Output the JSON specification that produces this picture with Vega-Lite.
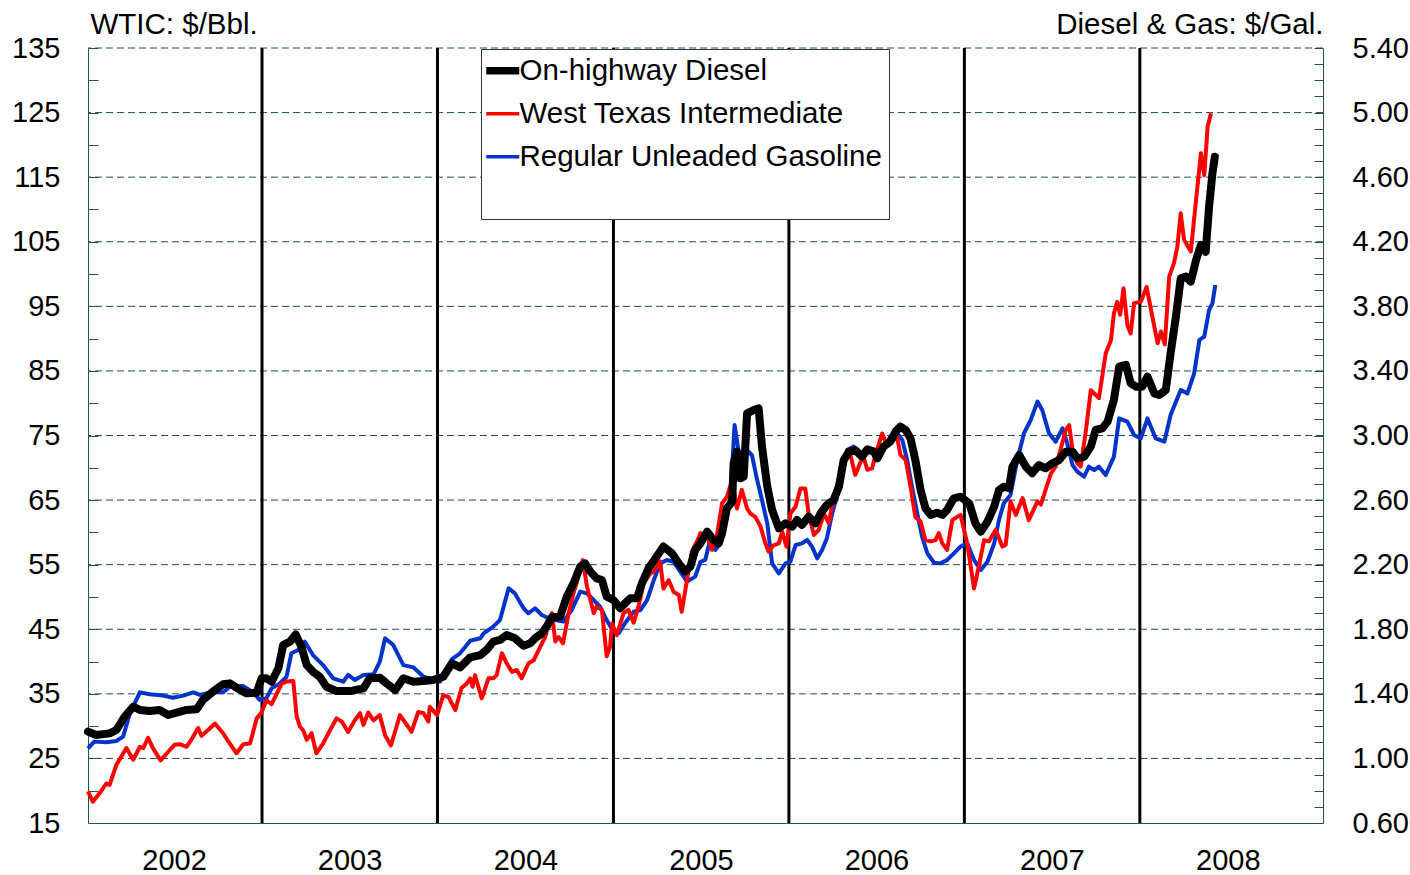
{
"$schema": "https://vega.github.io/schema/vega-lite/v6.json",
"width": 1235, "height": 775,
"autosize": {"type": "none"},
"padding": {"left": 88, "top": 48, "right": 87, "bottom": 52},
"background": "white",
"config": {"view": {"stroke": null}, "font": "Liberation Sans"},
"datasets": {
"grid": [{"level":25},{"level":35},{"level":45},{"level":55},{"level":65},{"level":75},{"level":85},{"level":95},{"level":105},{"level":115},{"level":125},{"level":135}],
"years": [{"date":"2003-01-01"},{"date":"2004-01-01"},{"date":"2005-01-01"},{"date":"2006-01-01"},{"date":"2007-01-01"},{"date":"2008-01-01"}],
"wti": [
{"date":"2002-01-04","price":19.9},{"date":"2002-01-14","price":18.3},{"date":"2002-01-28","price":19.6},{"date":"2002-02-11","price":21.1},{"date":"2002-02-18","price":20.9},{"date":"2002-03-04","price":24.0},{"date":"2002-03-25","price":26.6},{"date":"2002-04-08","price":24.8},{"date":"2002-04-22","price":26.8},{"date":"2002-04-29","price":26.6},{"date":"2002-05-09","price":28.2},{"date":"2002-05-19","price":26.6},{"date":"2002-06-04","price":24.7},{"date":"2002-06-23","price":26.3},{"date":"2002-07-03","price":27.1},{"date":"2002-07-14","price":27.2},{"date":"2002-07-28","price":26.8},{"date":"2002-08-07","price":27.9},{"date":"2002-08-21","price":29.7},{"date":"2002-08-28","price":28.5},{"date":"2002-09-11","price":29.4},{"date":"2002-09-25","price":30.4},{"date":"2002-10-12","price":28.9},{"date":"2002-10-26","price":27.3},{"date":"2002-11-09","price":25.8},{"date":"2002-11-23","price":27.2},{"date":"2002-12-07","price":27.3},{"date":"2002-12-21","price":31.2},{"date":"2002-12-31","price":32.1},
{"date":"2003-01-10","price":34.0},{"date":"2003-01-21","price":33.4},{"date":"2003-02-11","price":36.6},{"date":"2003-02-21","price":36.9},{"date":"2003-03-07","price":37.0},{"date":"2003-03-14","price":31.5},{"date":"2003-03-21","price":29.9},{"date":"2003-03-28","price":29.3},{"date":"2003-04-04","price":27.9},{"date":"2003-04-14","price":28.9},{"date":"2003-04-24","price":25.8},{"date":"2003-05-08","price":27.3},{"date":"2003-05-19","price":28.9},{"date":"2003-06-05","price":31.2},{"date":"2003-06-16","price":30.7},{"date":"2003-06-29","price":29.1},{"date":"2003-07-13","price":30.9},{"date":"2003-07-24","price":32.0},{"date":"2003-07-31","price":30.2},{"date":"2003-08-10","price":32.1},{"date":"2003-08-21","price":30.9},{"date":"2003-09-03","price":31.7},{"date":"2003-09-14","price":28.6},{"date":"2003-09-26","price":27.0},{"date":"2003-10-15","price":31.7},{"date":"2003-11-01","price":29.9},{"date":"2003-11-08","price":29.1},{"date":"2003-11-22","price":32.2},{"date":"2003-12-03","price":32.0},{"date":"2003-12-13","price":30.7},{"date":"2003-12-16","price":33.0},{"date":"2003-12-31","price":31.7},
{"date":"2004-01-13","price":34.8},{"date":"2004-01-24","price":34.5},{"date":"2004-02-07","price":32.5},{"date":"2004-02-20","price":35.9},{"date":"2004-03-02","price":36.6},{"date":"2004-03-09","price":37.4},{"date":"2004-03-14","price":36.1},{"date":"2004-03-19","price":37.9},{"date":"2004-04-02","price":34.3},{"date":"2004-04-16","price":37.4},{"date":"2004-04-26","price":37.4},{"date":"2004-05-03","price":37.9},{"date":"2004-05-14","price":41.3},{"date":"2004-05-24","price":39.7},{"date":"2004-06-04","price":38.4},{"date":"2004-06-14","price":38.7},{"date":"2004-06-24","price":37.4},{"date":"2004-07-08","price":39.7},{"date":"2004-07-19","price":40.2},{"date":"2004-08-02","price":42.3},{"date":"2004-08-12","price":43.8},{"date":"2004-08-26","price":47.5},{"date":"2004-09-02","price":43.1},{"date":"2004-09-09","price":43.8},{"date":"2004-09-18","price":42.8},{"date":"2004-09-30","price":47.5},{"date":"2004-10-10","price":50.6},{"date":"2004-10-20","price":53.1},{"date":"2004-10-29","price":55.7},{"date":"2004-11-07","price":51.6},{"date":"2004-11-21","price":47.5},{"date":"2004-11-27","price":48.5},{"date":"2004-12-08","price":48.0},{"date":"2004-12-18","price":40.8},{"date":"2004-12-25","price":42.3},{"date":"2004-12-29","price":45.9},
{"date":"2005-01-08","price":44.1},{"date":"2005-01-22","price":47.5},{"date":"2005-02-01","price":48.0},{"date":"2005-02-12","price":46.0},{"date":"2005-02-22","price":48.5},{"date":"2005-03-05","price":52.1},{"date":"2005-03-19","price":53.7},{"date":"2005-03-26","price":53.9},{"date":"2005-04-08","price":55.5},{"date":"2005-04-15","price":51.3},{"date":"2005-04-26","price":52.6},{"date":"2005-05-06","price":50.8},{"date":"2005-05-17","price":50.3},{"date":"2005-05-23","price":47.7},{"date":"2005-06-03","price":52.6},{"date":"2005-06-13","price":57.0},{"date":"2005-06-27","price":59.1},{"date":"2005-07-01","price":59.9},{"date":"2005-07-15","price":59.4},{"date":"2005-07-25","price":57.3},{"date":"2005-08-04","price":59.4},{"date":"2005-08-15","price":64.5},{"date":"2005-08-25","price":65.5},{"date":"2005-09-05","price":68.1},{"date":"2005-09-15","price":63.7},{"date":"2005-09-25","price":66.6},{"date":"2005-10-06","price":63.7},{"date":"2005-10-13","price":62.9},{"date":"2005-10-23","price":62.4},{"date":"2005-11-03","price":60.9},{"date":"2005-11-13","price":58.3},{"date":"2005-11-20","price":57.0},{"date":"2005-11-30","price":58.0},{"date":"2005-12-11","price":58.3},{"date":"2005-12-18","price":60.1},{"date":"2005-12-27","price":57.8},
{"date":"2006-01-04","price":62.9},{"date":"2006-01-15","price":64.0},{"date":"2006-01-25","price":66.8},{"date":"2006-02-04","price":66.8},{"date":"2006-02-11","price":62.9},{"date":"2006-02-22","price":59.6},{"date":"2006-03-04","price":60.4},{"date":"2006-03-15","price":62.9},{"date":"2006-03-25","price":61.4},{"date":"2006-04-04","price":65.5},{"date":"2006-04-15","price":68.1},{"date":"2006-04-25","price":71.5},{"date":"2006-05-09","price":72.0},{"date":"2006-05-19","price":68.9},{"date":"2006-05-30","price":70.9},{"date":"2006-06-06","price":71.5},{"date":"2006-06-13","price":69.7},{"date":"2006-06-23","price":69.9},{"date":"2006-06-30","price":72.0},{"date":"2006-07-14","price":75.3},{"date":"2006-07-24","price":73.5},{"date":"2006-07-31","price":73.8},{"date":"2006-08-14","price":74.8},{"date":"2006-08-21","price":72.0},{"date":"2006-09-01","price":71.2},{"date":"2006-09-11","price":67.1},{"date":"2006-09-21","price":62.4},{"date":"2006-10-02","price":61.7},{"date":"2006-10-12","price":58.8},{"date":"2006-10-23","price":58.6},{"date":"2006-11-02","price":58.8},{"date":"2006-11-09","price":59.9},{"date":"2006-11-16","price":58.3},{"date":"2006-11-26","price":57.3},{"date":"2006-12-07","price":61.9},{"date":"2006-12-17","price":62.4},{"date":"2006-12-24","price":62.7},
{"date":"2007-01-07","price":58.3},{"date":"2007-01-21","price":51.3},{"date":"2007-01-31","price":54.7},{"date":"2007-02-11","price":58.8},{"date":"2007-02-21","price":58.6},{"date":"2007-03-07","price":60.4},{"date":"2007-03-21","price":57.8},{"date":"2007-03-28","price":58.1},{"date":"2007-04-07","price":64.8},{"date":"2007-04-18","price":62.7},{"date":"2007-05-02","price":65.3},{"date":"2007-05-15","price":61.9},{"date":"2007-06-02","price":64.8},{"date":"2007-06-09","price":64.3},{"date":"2007-06-19","price":66.6},{"date":"2007-06-30","price":69.1},{"date":"2007-07-10","price":70.2},{"date":"2007-07-20","price":72.8},{"date":"2007-07-31","price":75.9},{"date":"2007-08-07","price":76.6},{"date":"2007-08-14","price":72.8},{"date":"2007-08-24","price":70.7},{"date":"2007-08-31","price":70.2},{"date":"2007-09-10","price":75.3},{"date":"2007-09-21","price":82.0},{"date":"2007-09-28","price":81.5},{"date":"2007-10-08","price":80.8},{"date":"2007-10-22","price":87.7},{"date":"2007-11-02","price":89.8},{"date":"2007-11-08","price":93.9},{"date":"2007-11-15","price":95.7},{"date":"2007-11-21","price":93.7},{"date":"2007-11-28","price":97.8},{"date":"2007-12-06","price":92.1},{"date":"2007-12-13","price":90.8},{"date":"2007-12-20","price":95.5},
{"date":"2008-01-03","price":95.7},{"date":"2008-01-15","price":98.0},{"date":"2008-01-27","price":93.4},{"date":"2008-02-07","price":89.3},{"date":"2008-02-14","price":91.1},{"date":"2008-02-22","price":89.1},{"date":"2008-03-02","price":99.6},{"date":"2008-03-12","price":101.7},{"date":"2008-03-19","price":104.2},{"date":"2008-03-26","price":109.4},{"date":"2008-04-02","price":105.3},{"date":"2008-04-16","price":103.5},{"date":"2008-04-27","price":111.5},{"date":"2008-05-07","price":118.7},{"date":"2008-05-14","price":115.3},{"date":"2008-05-21","price":122.8},{"date":"2008-05-28","price":124.9}
],
"diesel": [
{"date":"2002-01-04","price":1.166},{"date":"2002-01-21","price":1.145},{"date":"2002-02-18","price":1.155},{"date":"2002-03-04","price":1.176},{"date":"2002-03-21","price":1.258},{"date":"2002-04-08","price":1.320},{"date":"2002-04-22","price":1.300},{"date":"2002-05-12","price":1.294},{"date":"2002-06-02","price":1.300},{"date":"2002-06-20","price":1.269},{"date":"2002-07-07","price":1.283},{"date":"2002-07-28","price":1.300},{"date":"2002-08-18","price":1.304},{"date":"2002-08-31","price":1.362},{"date":"2002-09-21","price":1.414},{"date":"2002-10-12","price":1.459},{"date":"2002-10-26","price":1.465},{"date":"2002-11-16","price":1.424},{"date":"2002-11-30","price":1.403},{"date":"2002-12-21","price":1.407},{"date":"2002-12-31","price":1.496},
{"date":"2003-01-10","price":1.496},{"date":"2003-01-21","price":1.475},{"date":"2003-02-04","price":1.558},{"date":"2003-02-14","price":1.702},{"date":"2003-02-28","price":1.723},{"date":"2003-03-12","price":1.768},{"date":"2003-03-24","price":1.692},{"date":"2003-04-04","price":1.578},{"date":"2003-04-17","price":1.537},{"date":"2003-05-01","price":1.506},{"date":"2003-05-15","price":1.444},{"date":"2003-06-05","price":1.417},{"date":"2003-07-03","price":1.417},{"date":"2003-07-31","price":1.434},{"date":"2003-08-13","price":1.496},{"date":"2003-09-03","price":1.500},{"date":"2003-09-17","price":1.465},{"date":"2003-10-05","price":1.424},{"date":"2003-10-22","price":1.496},{"date":"2003-11-12","price":1.475},{"date":"2003-12-03","price":1.480},{"date":"2003-12-23","price":1.486},
{"date":"2004-01-13","price":1.506},{"date":"2004-01-31","price":1.589},{"date":"2004-02-17","price":1.564},{"date":"2004-03-09","price":1.626},{"date":"2004-03-30","price":1.640},{"date":"2004-04-12","price":1.672},{"date":"2004-04-26","price":1.723},{"date":"2004-05-10","price":1.734},{"date":"2004-05-24","price":1.764},{"date":"2004-06-10","price":1.744},{"date":"2004-06-28","price":1.698},{"date":"2004-07-12","price":1.713},{"date":"2004-07-22","price":1.744},{"date":"2004-08-05","price":1.775},{"date":"2004-08-15","price":1.816},{"date":"2004-08-26","price":1.874},{"date":"2004-09-12","price":1.878},{"date":"2004-09-26","price":2.002},{"date":"2004-10-10","price":2.084},{"date":"2004-10-24","price":2.188},{"date":"2004-11-03","price":2.208},{"date":"2004-11-14","price":2.157},{"date":"2004-11-27","price":2.115},{"date":"2004-12-08","price":2.105},{"date":"2004-12-18","price":2.002},
{"date":"2005-01-01","price":1.981},{"date":"2005-01-15","price":1.930},{"date":"2005-01-25","price":1.960},{"date":"2005-02-05","price":1.992},{"date":"2005-02-19","price":1.992},{"date":"2005-03-01","price":2.084},{"date":"2005-03-15","price":2.177},{"date":"2005-04-01","price":2.250},{"date":"2005-04-15","price":2.312},{"date":"2005-05-03","price":2.270},{"date":"2005-05-17","price":2.208},{"date":"2005-05-30","price":2.157},{"date":"2005-06-10","price":2.188},{"date":"2005-06-20","price":2.291},{"date":"2005-07-01","price":2.332},{"date":"2005-07-15","price":2.404},{"date":"2005-07-28","price":2.353},{"date":"2005-08-08","price":2.332},{"date":"2005-08-15","price":2.394},{"date":"2005-08-25","price":2.549},{"date":"2005-09-05","price":2.590},{"date":"2005-09-08","price":2.827},{"date":"2005-09-15","price":2.900},{"date":"2005-09-22","price":2.735},{"date":"2005-09-29","price":2.745},{"date":"2005-10-06","price":3.137},{"date":"2005-10-20","price":3.158},{"date":"2005-10-30","price":3.168},{"date":"2005-11-06","price":2.931},{"date":"2005-11-17","price":2.683},{"date":"2005-11-27","price":2.539},{"date":"2005-12-11","price":2.425},{"date":"2005-12-25","price":2.456},
{"date":"2006-01-08","price":2.435},{"date":"2006-01-18","price":2.477},{"date":"2006-01-28","price":2.446},{"date":"2006-02-11","price":2.497},{"date":"2006-02-25","price":2.456},{"date":"2006-03-08","price":2.518},{"date":"2006-03-21","price":2.570},{"date":"2006-04-04","price":2.600},{"date":"2006-04-15","price":2.683},{"date":"2006-04-25","price":2.848},{"date":"2006-05-06","price":2.900},{"date":"2006-05-19","price":2.910},{"date":"2006-06-02","price":2.869},{"date":"2006-06-13","price":2.914},{"date":"2006-06-27","price":2.900},{"date":"2006-07-04","price":2.859},{"date":"2006-07-17","price":2.931},{"date":"2006-07-31","price":2.962},{"date":"2006-08-11","price":3.024},{"date":"2006-08-21","price":3.055},{"date":"2006-09-01","price":3.034},{"date":"2006-09-11","price":2.982},{"date":"2006-09-21","price":2.848},{"date":"2006-10-02","price":2.662},{"date":"2006-10-12","price":2.549},{"date":"2006-10-23","price":2.508},{"date":"2006-11-05","price":2.522},{"date":"2006-11-16","price":2.508},{"date":"2006-11-26","price":2.539},{"date":"2006-12-10","price":2.611},{"date":"2006-12-24","price":2.621},
{"date":"2007-01-11","price":2.580},{"date":"2007-01-24","price":2.456},{"date":"2007-02-04","price":2.404},{"date":"2007-02-18","price":2.466},{"date":"2007-03-04","price":2.559},{"date":"2007-03-14","price":2.662},{"date":"2007-03-24","price":2.683},{"date":"2007-04-04","price":2.673},{"date":"2007-04-11","price":2.807},{"date":"2007-04-25","price":2.879},{"date":"2007-05-09","price":2.807},{"date":"2007-05-22","price":2.766},{"date":"2007-06-05","price":2.817},{"date":"2007-06-19","price":2.797},{"date":"2007-07-03","price":2.828},{"date":"2007-07-17","price":2.848},{"date":"2007-07-31","price":2.900},{"date":"2007-08-14","price":2.900},{"date":"2007-08-24","price":2.858},{"date":"2007-09-07","price":2.869},{"date":"2007-09-21","price":2.931},{"date":"2007-10-01","price":3.034},{"date":"2007-10-15","price":3.044},{"date":"2007-10-26","price":3.086},{"date":"2007-11-08","price":3.220},{"date":"2007-11-19","price":3.426},{"date":"2007-12-03","price":3.437},{"date":"2007-12-13","price":3.323},{"date":"2007-12-24","price":3.302},
{"date":"2008-01-06","price":3.302},{"date":"2008-01-17","price":3.364},{"date":"2008-01-31","price":3.261},{"date":"2008-02-10","price":3.251},{"date":"2008-02-24","price":3.282},{"date":"2008-03-05","price":3.509},{"date":"2008-03-16","price":3.736},{"date":"2008-03-26","price":3.973},{"date":"2008-04-06","price":3.984},{"date":"2008-04-16","price":3.953},{"date":"2008-04-27","price":4.087},{"date":"2008-05-07","price":4.180},{"date":"2008-05-17","price":4.138},{"date":"2008-05-24","price":4.417},{"date":"2008-05-31","price":4.624},{"date":"2008-06-05","price":4.727}
],
"gas": [
{"date":"2002-01-04","price":1.062},{"date":"2002-01-17","price":1.104},{"date":"2002-02-11","price":1.100},{"date":"2002-03-04","price":1.108},{"date":"2002-03-18","price":1.135},{"date":"2002-04-01","price":1.279},{"date":"2002-04-22","price":1.409},{"date":"2002-05-12","price":1.397},{"date":"2002-06-09","price":1.389},{"date":"2002-06-30","price":1.376},{"date":"2002-07-21","price":1.389},{"date":"2002-08-11","price":1.409},{"date":"2002-08-25","price":1.393},{"date":"2002-09-21","price":1.414},{"date":"2002-10-12","price":1.409},{"date":"2002-10-26","price":1.444},{"date":"2002-11-23","price":1.448},{"date":"2002-12-14","price":1.409},{"date":"2002-12-27","price":1.362},
{"date":"2003-01-10","price":1.372},{"date":"2003-01-21","price":1.434},{"date":"2003-02-07","price":1.465},{"date":"2003-02-21","price":1.506},{"date":"2003-03-03","price":1.651},{"date":"2003-03-17","price":1.672},{"date":"2003-03-31","price":1.723},{"date":"2003-04-17","price":1.640},{"date":"2003-05-08","price":1.578},{"date":"2003-05-29","price":1.496},{"date":"2003-06-19","price":1.475},{"date":"2003-06-29","price":1.517},{"date":"2003-07-13","price":1.486},{"date":"2003-07-31","price":1.517},{"date":"2003-08-21","price":1.521},{"date":"2003-09-03","price":1.599},{"date":"2003-09-14","price":1.744},{"date":"2003-10-01","price":1.702},{"date":"2003-10-22","price":1.578},{"date":"2003-11-12","price":1.564},{"date":"2003-12-03","price":1.506},{"date":"2003-12-23","price":1.486},
{"date":"2004-01-06","price":1.475},{"date":"2004-01-31","price":1.615},{"date":"2004-02-17","price":1.651},{"date":"2004-03-09","price":1.729},{"date":"2004-03-30","price":1.744},{"date":"2004-04-06","price":1.775},{"date":"2004-04-26","price":1.816},{"date":"2004-05-10","price":1.857},{"date":"2004-05-28","price":2.054},{"date":"2004-06-10","price":2.022},{"date":"2004-06-28","price":1.930},{"date":"2004-07-08","price":1.899},{"date":"2004-07-22","price":1.930},{"date":"2004-08-05","price":1.888},{"date":"2004-08-19","price":1.868},{"date":"2004-09-02","price":1.857},{"date":"2004-09-19","price":1.847},{"date":"2004-10-06","price":1.919},{"date":"2004-10-24","price":2.033},{"date":"2004-11-07","price":2.022},{"date":"2004-11-21","price":1.981},{"date":"2004-12-04","price":1.940},{"date":"2004-12-18","price":1.857},
{"date":"2005-01-01","price":1.785},{"date":"2005-01-12","price":1.775},{"date":"2005-01-25","price":1.837},{"date":"2005-02-12","price":1.909},{"date":"2005-02-26","price":1.919},{"date":"2005-03-12","price":1.981},{"date":"2005-03-26","price":2.105},{"date":"2005-04-08","price":2.208},{"date":"2005-04-22","price":2.229},{"date":"2005-05-06","price":2.218},{"date":"2005-05-20","price":2.157},{"date":"2005-06-03","price":2.095},{"date":"2005-06-20","price":2.126},{"date":"2005-07-01","price":2.218},{"date":"2005-07-11","price":2.229},{"date":"2005-07-21","price":2.353},{"date":"2005-08-01","price":2.291},{"date":"2005-08-11","price":2.332},{"date":"2005-08-22","price":2.539},{"date":"2005-09-01","price":2.600},{"date":"2005-09-10","price":3.065},{"date":"2005-09-18","price":2.910},{"date":"2005-09-25","price":2.755},{"date":"2005-10-06","price":2.910},{"date":"2005-10-16","price":2.879},{"date":"2005-10-27","price":2.724},{"date":"2005-11-06","price":2.600},{"date":"2005-11-17","price":2.456},{"date":"2005-11-27","price":2.208},{"date":"2005-12-11","price":2.146},{"date":"2005-12-25","price":2.208},
{"date":"2006-01-04","price":2.218},{"date":"2006-01-15","price":2.322},{"date":"2006-01-28","price":2.332},{"date":"2006-02-08","price":2.353},{"date":"2006-02-18","price":2.312},{"date":"2006-03-01","price":2.239},{"date":"2006-03-11","price":2.291},{"date":"2006-03-21","price":2.363},{"date":"2006-04-01","price":2.518},{"date":"2006-04-11","price":2.621},{"date":"2006-04-22","price":2.786},{"date":"2006-05-02","price":2.910},{"date":"2006-05-16","price":2.931},{"date":"2006-05-26","price":2.890},{"date":"2006-06-06","price":2.879},{"date":"2006-06-20","price":2.910},{"date":"2006-07-04","price":2.869},{"date":"2006-07-17","price":2.920},{"date":"2006-07-31","price":2.993},{"date":"2006-08-14","price":3.014},{"date":"2006-08-25","price":2.972},{"date":"2006-09-04","price":2.848},{"date":"2006-09-14","price":2.683},{"date":"2006-09-25","price":2.518},{"date":"2006-10-05","price":2.374},{"date":"2006-10-16","price":2.270},{"date":"2006-10-30","price":2.212},{"date":"2006-11-12","price":2.208},{"date":"2006-11-26","price":2.229},{"date":"2006-12-10","price":2.270},{"date":"2006-12-24","price":2.312},
{"date":"2007-01-07","price":2.332},{"date":"2007-01-21","price":2.229},{"date":"2007-02-04","price":2.167},{"date":"2007-02-18","price":2.218},{"date":"2007-03-04","price":2.332},{"date":"2007-03-14","price":2.477},{"date":"2007-03-24","price":2.580},{"date":"2007-04-07","price":2.632},{"date":"2007-04-21","price":2.848},{"date":"2007-05-05","price":3.014},{"date":"2007-05-19","price":3.096},{"date":"2007-06-02","price":3.210},{"date":"2007-06-12","price":3.158},{"date":"2007-06-26","price":3.014},{"date":"2007-07-10","price":2.962},{"date":"2007-07-24","price":3.044},{"date":"2007-08-03","price":2.951},{"date":"2007-08-14","price":2.817},{"date":"2007-08-24","price":2.776},{"date":"2007-09-07","price":2.745},{"date":"2007-09-17","price":2.807},{"date":"2007-09-28","price":2.786},{"date":"2007-10-08","price":2.807},{"date":"2007-10-22","price":2.755},{"date":"2007-11-08","price":2.869},{"date":"2007-11-19","price":3.106},{"date":"2007-12-06","price":3.086},{"date":"2007-12-20","price":3.003},
{"date":"2008-01-03","price":2.982},{"date":"2008-01-17","price":3.106},{"date":"2008-02-03","price":2.982},{"date":"2008-02-21","price":2.962},{"date":"2008-03-05","price":3.127},{"date":"2008-03-26","price":3.282},{"date":"2008-04-09","price":3.261},{"date":"2008-04-23","price":3.385},{"date":"2008-05-04","price":3.592},{"date":"2008-05-14","price":3.612},{"date":"2008-05-24","price":3.777},{"date":"2008-05-31","price":3.818},{"date":"2008-06-06","price":3.932}
]
},
"layer": [
{"data": {"name": "grid"},
 "mark": {"type": "rule", "color": "#1c5050", "strokeWidth": 1, "strokeDash": [7, 4]},
 "encoding": {"y": {"field": "level", "type": "quantitative", "scale": {"domain": [15, 135], "nice": false, "zero": false}, "axis": null}}},
{"data": {"name": "years"},
 "mark": {"type": "rule", "color": "black", "strokeWidth": 3},
 "encoding": {"x": {"field": "date", "type": "temporal", "scale": {"domain": [{"year": 2002, "month": 1, "date": 4}, {"year": 2009, "month": 1, "date": 16}]},
   "axis": {"values": [{"year": 2002, "month": 7, "date": 2}, {"year": 2003, "month": 7, "date": 2}, {"year": 2004, "month": 7, "date": 2}, {"year": 2005, "month": 7, "date": 2}, {"year": 2006, "month": 7, "date": 2}, {"year": 2007, "month": 7, "date": 2}, {"year": 2008, "month": 7, "date": 2}],
     "format": "%Y", "ticks": false, "grid": false, "domainColor": "#1f5656", "labelFontSize": 29, "labelPadding": 23, "labelColor": "black", "labelFont": "Liberation Sans", "title": null, "labelFlush": false, "labelOverlap": false}}}},
{"data": {"name": "gas"},
 "mark": {"type": "line", "strokeWidth": 4, "strokeJoin": "round"},
 "encoding": {
   "x": {"field": "date", "type": "temporal", "scale": {"domain": [{"year": 2002, "month": 1, "date": 4}, {"year": 2009, "month": 1, "date": 16}]}},
   "y": {"field": "price", "type": "quantitative", "scale": {"domain": [0.6, 5.4], "nice": false, "zero": false}, "axis": null},
   "color": {"datum": "Regular Unleaded Gasoline", "type": "nominal",
     "scale": {"domain": ["On-highway Diesel", "West Texas Intermediate", "Regular Unleaded Gasoline"], "range": ["#000000", "#ff0000", "#0033cc"]},
     "legend": {"title": "\u00a0", "titleOrient": "bottom", "titleFontSize": 29, "titlePadding": 12, "orient": "none", "legendX": 393, "legendY": 1, "symbolType": "stroke", "symbolSize": 1089, "labelFontSize": 29.5, "labelFont": "Liberation Sans", "labelColor": "black", "labelOffset": 2, "labelLimit": 800,
       "labelExpr": "datum.label == 'Regular Unleaded Gasoline' ? datum.label + '\u00a0\u00a0\u00a0' : datum.label",
       "rowPadding": 12, "padding": 7, "fillColor": "white", "strokeColor": "#333333", "cornerRadius": 0,
       "encode": {"symbols": {"update": {"strokeWidth": {"signal": "datum.value === 'On-highway Diesel' ? 7.5 : 3.5"}}}}}}}},
{"data": {"name": "wti"},
 "mark": {"type": "line", "strokeWidth": 4, "strokeJoin": "round"},
 "encoding": {
   "x": {"field": "date", "type": "temporal", "scale": {"domain": [{"year": 2002, "month": 1, "date": 4}, {"year": 2009, "month": 1, "date": 16}]}},
   "y": {"field": "price", "type": "quantitative", "scale": {"domain": [15, 135], "nice": false, "zero": false},
     "axis": {"orient": "left", "values": [15, 20, 25, 30, 35, 40, 45, 50, 55, 60, 65, 70, 75, 80, 85, 90, 95, 100, 105, 110, 115, 120, 125, 130, 135],
       "labelExpr": "(datum.value - 15) % 10 == 0 ? datum.label : ''", "labelOverlap": false, "labelFlush": false, "tickSize": -10, "tickColor": "#1f5656", "domainColor": "#1f5656", "grid": false,
       "labelFontSize": 29, "labelFont": "Liberation Sans", "labelColor": "black", "labelPadding": 38,
       "title": "WTIC: $/Bbl.", "titleAngle": 0, "titleAlign": "left", "titleBaseline": "alphabetic", "titleX": 2, "titleY": -15, "titleFontSize": 29.5, "titleFontWeight": "normal", "titleFont": "Liberation Sans", "titleColor": "black"}},
   "color": {"datum": "West Texas Intermediate", "type": "nominal"}}},
{"data": {"name": "diesel"},
 "mark": {"type": "line", "strokeWidth": 8, "strokeJoin": "round", "strokeCap": "round"},
 "encoding": {
   "x": {"field": "date", "type": "temporal", "scale": {"domain": [{"year": 2002, "month": 1, "date": 4}, {"year": 2009, "month": 1, "date": 16}]}},
   "y": {"field": "price", "type": "quantitative", "scale": {"domain": [0.6, 5.4], "nice": false, "zero": false},
     "axis": {"orient": "right", "values": [0.6, 0.7, 0.8, 0.9, 1.0, 1.1, 1.2, 1.3, 1.4, 1.5, 1.6, 1.7, 1.8, 1.9, 2.0, 2.1, 2.2, 2.3, 2.4, 2.5, 2.6, 2.7, 2.8, 2.9, 3.0, 3.1, 3.2, 3.3, 3.4, 3.5, 3.6, 3.7, 3.8, 3.9, 4.0, 4.1, 4.2, 4.3, 4.4, 4.5, 4.6, 4.7, 4.8, 4.9, 5.0, 5.1, 5.2, 5.3, 5.4],
       "labelExpr": "round(datum.value * 10) % 4 == 2 ? format(datum.value, '.2f') : ''", "labelOverlap": false, "labelFlush": false, "tickSize": -9, "tickColor": "#1f5656", "domainColor": "#1f5656", "grid": false,
       "labelFontSize": 29, "labelFont": "Liberation Sans", "labelColor": "black", "labelPadding": 38,
       "title": "Diesel & Gas: $/Gal.", "titleAngle": 0, "titleAlign": "right", "titleBaseline": "alphabetic", "titleX": 0, "titleY": -15, "titleFontSize": 29.5, "titleFontWeight": "normal", "titleFont": "Liberation Sans", "titleColor": "black"}},
   "color": {"datum": "On-highway Diesel", "type": "nominal"}}}
],
"resolve": {"scale": {"y": "independent"}, "axis": {"y": "independent"}}
}
